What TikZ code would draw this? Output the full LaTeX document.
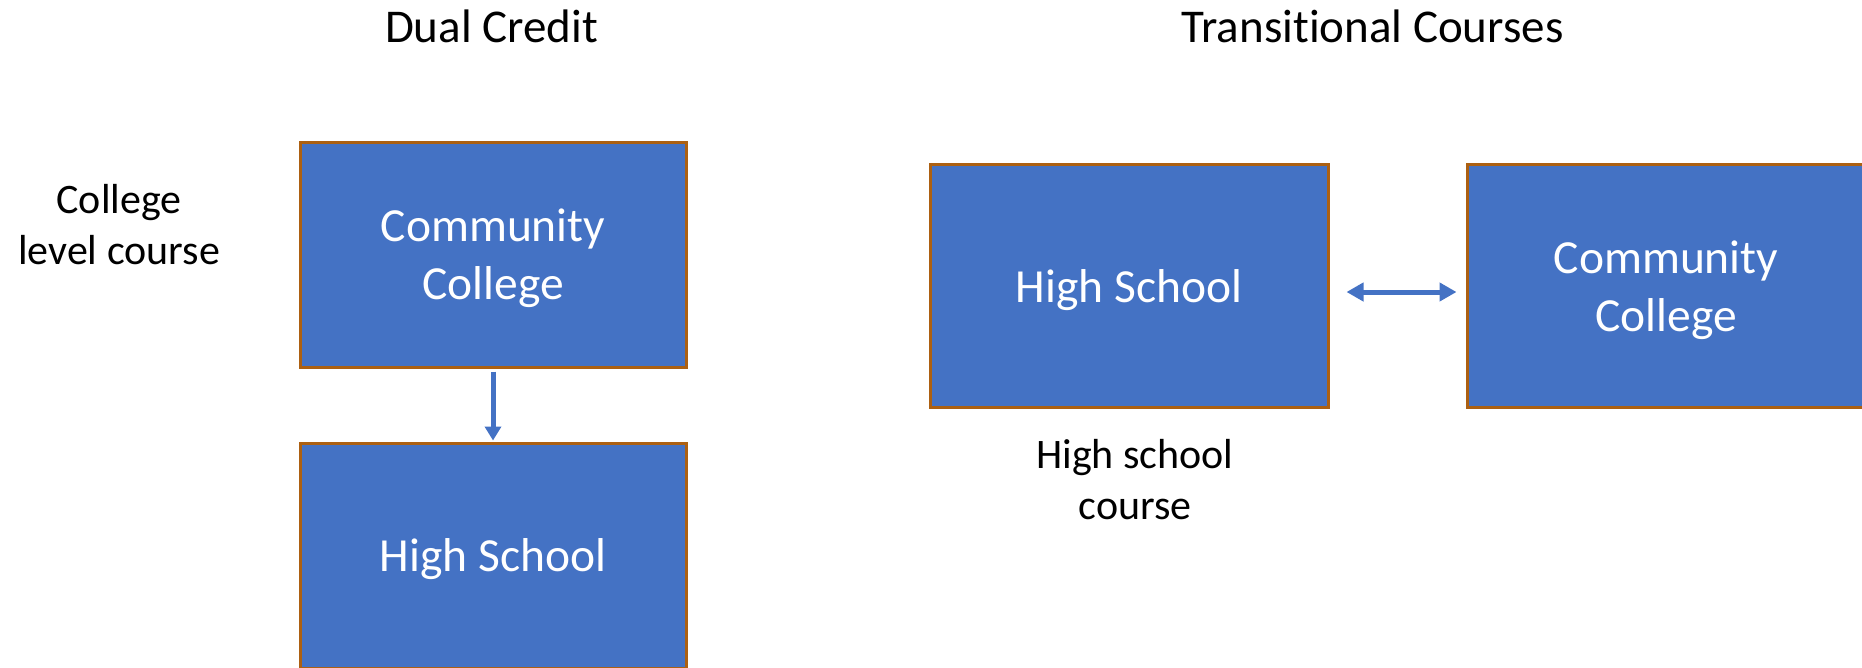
\documentclass[tikz,border=0pt]{standalone}
\usepackage{fontspec}
\setmainfont[Ligatures=NoCommon]{Carlito}
\usetikzlibrary{arrows.meta}
\definecolor{boxblue}{HTML}{4472C4}
\definecolor{boxedge}{RGB}{172,96,18}
\newcommand\tallstrut{\rule{0pt}{\dimexpr\fontcharht\font`l+8pt\relax}}
\begin{document}
\begin{tikzpicture}[x=1pt,y=-1pt,
  blk/.style={draw=boxedge, line width=3pt, fill=boxblue, text=white,
    inner sep=0pt, align=center, font=\fontsize{47.5}{58}\selectfont},
  lbl/.style={align=center, inner sep=0pt, font=\fontsize{42}{51}\selectfont},
  ttl/.style={inner sep=0pt, anchor=base, font=\fontsize{47}{56}\selectfont},
  conn/.style={draw=boxblue, line width=5pt}]
\useasboundingbox (0,0) rectangle (1862,667);
\clip (0,0) rectangle (1862,667);
\node[ttl] (t1) at (491.5,42) {Dual Credit};
\node[ttl] (t2) at (1372.5,42) {Transitional Courses};
\node[lbl] (l1) at (119,225) {College\\level course};
\node[lbl] (l2) at (1135,480) {High school\\course};
\node[blk, minimum width=386pt, minimum height=225pt] (A) at (493,254.5) {\tallstrut Community\\College};
\node[blk, minimum width=386pt, minimum height=225pt] (B) at (493,555.5) {\tallstrut High School};
\node[blk, minimum width=398pt, minimum height=243pt] (C) at (1129,286) {\tallstrut High School};
\node[blk, minimum width=398pt, minimum height=243pt] (D) at (1666,286) {\tallstrut Community\\College};
\draw[conn, -{Triangle[length=14pt,width=16pt]}, shorten <=3pt, shorten >=1pt] (A.south) -- (B.north);
\draw[conn, {Triangle[length=17pt,width=18pt]}-{Triangle[length=17pt,width=18pt]}, shorten <=17pt, shorten >=9pt] (C.east |- 0,292) -- (D.west |- 0,292);
\end{tikzpicture}
\end{document}
